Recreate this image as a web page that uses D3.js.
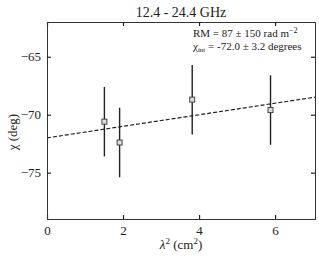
<!DOCTYPE html>
<html>
<head>
<meta charset="utf-8">
<script src="https://cdn.jsdelivr.net/npm/d3@7"></script>
<style>
  body { margin: 0; background: #fff; }
  svg text { font-family: "Times New Roman", "Liberation Serif", Times, serif; fill: #222; }
</style>
</head>
<body>
<div id="chart"></div>
<script>
// data
const lambda2 = [1.51, 1.91, 3.82, 5.88];          // cm^2
const chi = [-70.6, -72.4, -68.7, -69.6];          // deg
const chiErr = [3.0, 3.0, 3.0, 3.0];
const xTicks = [0, 2, 4, 6];
const yTicks = [-75, -70, -65];
const fitChi0 = -72.0;                             // degrees
const fitRM = 87;                                  // rad m^-2

const font = '"Times New Roman", "Liberation Serif", Times, serif';
const width = 319, height = 257;
const margin = {top: 22, right: 4, bottom: 38, left: 47};
const W = width - margin.left - margin.right,
      H = height - margin.top - margin.bottom;

const svg = d3.select('#chart').append('svg')
    .attr('width', width).attr('height', height)
    .attr('font-family', font);

const x = d3.scaleLinear([0, 7.05], [0, W]);
const y = d3.scaleLinear([-79, -62], [H, 0]);

const g = svg.append('g').attr('transform', `translate(${margin.left},${margin.top})`);

// fit line: chi = chi0 + RM * lambda^2 (cm^2 -> m^2, rad -> deg)
const slope = fitRM * 1e-4 * 180 / Math.PI;
const fitX = x.domain();
g.append('line')
    .attr('x1', x(fitX[0])).attr('y1', y(fitChi0 + slope * fitX[0]))
    .attr('x2', x(fitX[1])).attr('y2', y(fitChi0 + slope * fitX[1]))
    .attr('stroke', '#222').attr('stroke-width', 1.2)
    .attr('stroke-dasharray', '4,2');

const pts = lambda2.map((d, i) => ({x: d, y: chi[i], e: chiErr[i]}));

g.selectAll('line.err').data(pts).join('line')
    .classed('err', true)
    .attr('x1', d => x(d.x)).attr('x2', d => x(d.x))
    .attr('y1', d => y(d.y - d.e)).attr('y2', d => y(d.y + d.e))
    .attr('stroke', '#222').attr('stroke-width', 1.4);

g.selectAll('rect.pt').data(pts).join('rect')
    .classed('pt', true)
    .attr('x', d => x(d.x) - 2.5).attr('y', d => y(d.y) - 2.5)
    .attr('width', 5).attr('height', 5)
    .attr('fill', '#ddd').attr('stroke', '#444').attr('stroke-width', 1);

// axes, ticks inside on all sides
const tk = 4;
g.append('g').attr('transform', `translate(0,${H})`)
    .call(d3.axisBottom(x).tickValues(xTicks).tickSize(-tk).tickPadding(7).tickFormat(d3.format('d')));
g.append('g')
    .call(d3.axisTop(x).tickValues(xTicks).tickSize(-tk).tickFormat(''));
g.append('g')
    .call(d3.axisLeft(y).tickValues(yTicks).tickSize(-tk).tickPadding(6)
        .tickFormat(d => '\u2212' + Math.abs(d)));
g.append('g').attr('transform', `translate(${W},0)`)
    .call(d3.axisRight(y).tickValues(yTicks).tickSize(-tk).tickFormat(''));

g.selectAll('g').attr('font-family', font);
g.selectAll('.domain').attr('stroke', '#333').attr('stroke-width', 1);
g.selectAll('.tick line').attr('stroke', '#222').attr('stroke-width', 1.2);
g.selectAll('.tick text').attr('font-size', 13).attr('fill', '#333');

// title and labels
svg.append('text')
    .attr('x', margin.left + W / 2).attr('y', 17)
    .attr('text-anchor', 'middle').attr('font-size', 14)
    .text('12.4 - 24.4 GHz');

const ann = svg.append('text').attr('font-size', 11);
ann.append('tspan').attr('x', 193).attr('y', 37).text('RM = 87 \u00b1 150 rad m');
ann.append('tspan').attr('dy', -4).attr('font-size', 8).text('\u22122');

const ann2 = svg.append('text').attr('font-size', 11);
ann2.append('tspan').attr('x', 193).attr('y', 50).text('\u03c7');
ann2.append('tspan').attr('dy', 2).attr('font-size', 7).text('int');
ann2.append('tspan').attr('dy', -2).text(' = -72.0 \u00b1 3.2 degrees');

const xl = svg.append('text')
    .attr('x', margin.left + W / 2).attr('y', 249)
    .attr('text-anchor', 'middle').attr('font-size', 13);
xl.append('tspan').attr('font-style', 'italic').text('\u03bb');
xl.append('tspan').attr('dy', -5).attr('font-size', 9).text('2');
xl.append('tspan').attr('dy', 5).text(' (cm');
xl.append('tspan').attr('dy', -5).attr('font-size', 9).text('2');
xl.append('tspan').attr('dy', 5).text(')');

svg.append('text')
    .attr('transform', `translate(17,${margin.top + y(-71.5)})rotate(-90)`)
    .attr('text-anchor', 'middle').attr('font-size', 13)
    .text('\u03c7 (deg)');
</script>
</body>
</html>
